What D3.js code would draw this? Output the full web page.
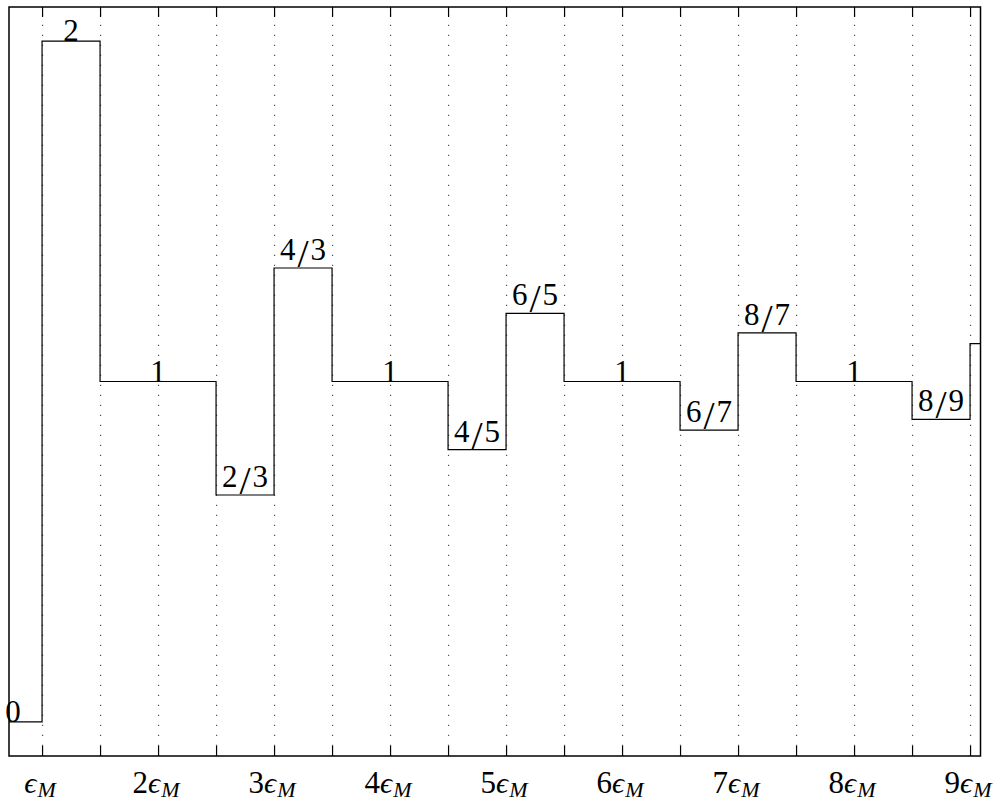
<!DOCTYPE html>
<html>
<head>
<meta charset="utf-8">
<script src="https://cdn.jsdelivr.net/npm/d3@7"></script>
<style>
  html, body { margin: 0; padding: 0; background: #fff; }
  svg { display: block; }
</style>
</head>
<body>
<script>
// Step function: piecewise-constant value over intervals of half an epsilon_M
const stepStart = [0.5, 1, 1.5, 2.5, 3, 3.5, 4.5, 5, 5.5, 6.5, 7, 7.5, 8.5, 9];
const stepEnd   = [1, 1.5, 2.5, 3, 3.5, 4.5, 5, 5.5, 6.5, 7, 7.5, 8.5, 9, 9.5];
const stepNum   = [0, 2, 1, 2, 4, 1, 4, 6, 1, 6, 8, 1, 8, 10];
const stepDen   = [1, 1, 1, 3, 3, 1, 5, 5, 1, 7, 7, 1, 9, 9];

// Axis ticks (multiples of epsilon_M, every half step) and labelled ones
const tickValues = [1, 1.5, 2, 2.5, 3, 3.5, 4, 4.5, 5, 5.5, 6, 6.5, 7, 7.5, 8, 8.5, 9];
const labelTicks = [1, 2, 3, 4, 5, 6, 7, 8, 9];
const labelCoeff = ["", "2", "3", "4", "5", "6", "7", "8", "9"];

const W = 999, H = 804;
const plotL = 9, plotR = 980.5, plotT = 7, plotB = 756;
const SERIF = '"Liberation Serif", "Times New Roman", serif';

const svg = d3.select("body").append("svg")
  .attr("width", W).attr("height", H);

const x = d3.scaleLinear().domain([0.715, 9.09]).range([plotL, plotR]);
const y = d3.scaleLinear().domain([-0.1, 2.1]).range([plotB, plotT]);

const steps = stepStart.map((s, i) => ({
  x0: s, x1: stepEnd[i],
  v: stepNum[i] / stepDen[i],
  label: stepDen[i] === 1 ? [String(stepNum[i])] : [String(stepNum[i]), String(stepDen[i])]
}));

svg.append("defs").append("clipPath").attr("id", "plotClip")
  .append("rect").attr("x", plotL).attr("y", plotT)
  .attr("width", plotR - plotL).attr("height", plotB - plotT);

// dotted vertical grid
svg.append("g")
  .attr("transform", `translate(0,${plotB})`)
  .call(d3.axisBottom(x).tickValues(tickValues).tickSize(-(plotB - plotT)).tickFormat(""))
  .call(g => g.select(".domain").remove())
  .call(g => g.selectAll("line")
    .attr("stroke", "#555")
    .attr("stroke-width", 1.2)
    .attr("stroke-dasharray", "1.3,8.7"));

// inward tick marks on bottom and top
svg.append("g")
  .attr("transform", `translate(0,${plotB})`)
  .call(d3.axisBottom(x).tickValues(tickValues).tickSize(-10).tickFormat(""))
  .call(g => g.select(".domain").remove())
  .call(g => g.selectAll("line").attr("stroke", "#000").attr("stroke-width", 1.2));
svg.append("g")
  .attr("transform", `translate(0,${plotT})`)
  .call(d3.axisTop(x).tickValues(tickValues).tickSize(-10).tickFormat(""))
  .call(g => g.select(".domain").remove())
  .call(g => g.selectAll("line").attr("stroke", "#000").attr("stroke-width", 1.2));

// step line
const pts = [];
steps.forEach(s => { pts.push([s.x0, s.v]); pts.push([s.x1, s.v]); });
const line = d3.line().x(d => x(d[0])).y(d => y(d[1]));
svg.append("path")
  .attr("clip-path", "url(#plotClip)")
  .attr("d", line(pts))
  .attr("fill", "none")
  .attr("stroke", "#000")
  .attr("stroke-width", 1.2);

// frame
svg.append("rect")
  .attr("x", plotL).attr("y", plotT)
  .attr("width", plotR - plotL).attr("height", plotB - plotT)
  .attr("fill", "none").attr("stroke", "#000").attr("stroke-width", 1.5);

// value labels sitting on each step
const [d0, d1] = x.domain();
steps.filter(s => {
  const c = (s.x0 + s.x1) / 2;
  return c >= d0 && c <= d1;
}).forEach(s => {
  const cx = x((s.x0 + s.x1) / 2);
  const t = svg.append("text")
    .attr("x", cx)
    .attr("text-anchor", "middle")
    .style("font-family", SERIF)
    .style("font-size", "31px")
    .style("fill", "#000");
  if (s.label.length === 1) {
    t.attr("y", y(s.v)).text(s.label[0]);
  } else {
    t.attr("y", y(s.v) - 8);
    t.append("tspan").text(s.label[0]);
    t.append("tspan").attr("dx", 2).attr("dy", 7).style("font-size", "40px").text("/");
    t.append("tspan").attr("dx", 2).attr("dy", -7).text(s.label[1]);
  }
});

// x tick labels: k·ϵ_M
labelTicks.forEach((v, i) => {
  const t = svg.append("text")
    .attr("x", x(v) - 2)
    .attr("y", 793)
    .attr("text-anchor", "middle")
    .style("font-family", SERIF)
    .style("font-size", "31px")
    .style("fill", "#000");
  if (labelCoeff[i]) t.append("tspan").text(labelCoeff[i]);
  t.append("tspan")
    .style("font-style", "italic")
    .style("font-size", "30px")
    .text("ϵ");
  t.append("tspan")
    .style("font-style", "italic")
    .style("font-size", "22px")
    .attr("dy", 4)
    .attr("dx", 1)
    .text("M");
});
</script>
</body>
</html>
